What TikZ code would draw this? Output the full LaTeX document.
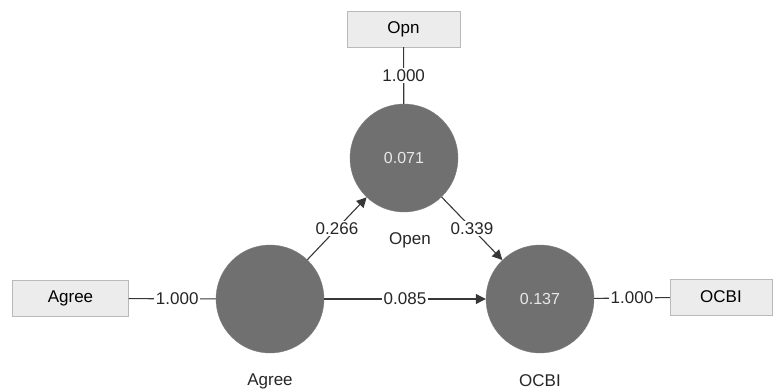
\documentclass[tikz,border=0pt]{standalone}
\usepackage{fontspec}
\setmainfont{Liberation Sans}
\usetikzlibrary{arrows.meta,positioning}
\definecolor{lvfill}{RGB}{112,112,112}
\definecolor{lvtext}{RGB}{232,232,232}
\definecolor{indfill}{RGB}{236,236,236}
\definecolor{inddraw}{RGB}{185,185,185}
\definecolor{pathcol}{RGB}{55,55,55}
\tikzset{
  lv/.style={circle, fill=lvfill, draw=lvfill!90!white, minimum size=108pt, inner sep=0pt,
             text=lvtext, font=\fontsize{16}{18}\selectfont},
  ind/.style={draw=inddraw, fill=indfill, minimum height=36pt, inner sep=0pt,
              font=\fontsize{17}{19}\selectfont},
  lvname/.style={font=\fontsize{17}{19}\selectfont, text=black!85},
  coef/.style={fill=white, inner sep=1.5pt, font=\fontsize{17}{19}\selectfont, text=black!85},
  ld/.style={pathcol, line width=1.1pt},
  pth/.style={-{Triangle[length=10pt,width=10pt]}, pathcol, line width=1.1pt},
}
\begin{document}
\begin{tikzpicture}[x=1pt, y=-1pt]
  \useasboundingbox (0,0) rectangle (774,391);
  % latent variables
  \node[lv] (open) at (404,158) {0.071};
  \node[lv] (agree) at (270,299) {};
  \node[lv] (ocbi) at (540,299) {0.137};
  \node[lvname] at (410,240) {Open};
  \node[lvname] at (270,381) {Agree};
  \node[lvname] at (540,381) {OCBI};
  % indicators
  \node[ind, minimum width=113pt] (opn) at (403.5,29) {Opn};
  \node[ind, minimum width=116pt] (agreeind) at (70.5,298.5) {Agree};
  \node[ind, minimum width=102pt] (ocbiind) at (721,297) {OCBI};
  % outer loadings
  \draw[ld] (opn) -- node[coef] {1.000} (open);
  \draw[ld] (agreeind) -- node[coef, xshift=5pt] {1.000} (agree);
  \draw[ld] (ocbi) -- node[coef] {1.000} (ocbiind);
  % path coefficients
  \draw[pth] (agree) -- node[coef] {0.266} (open);
  \draw[pth] (open) -- node[coef] {0.339} (ocbi);
  \draw[pth] (agree) -- node[coef] {0.085} (ocbi);
\end{tikzpicture}
\end{document}
